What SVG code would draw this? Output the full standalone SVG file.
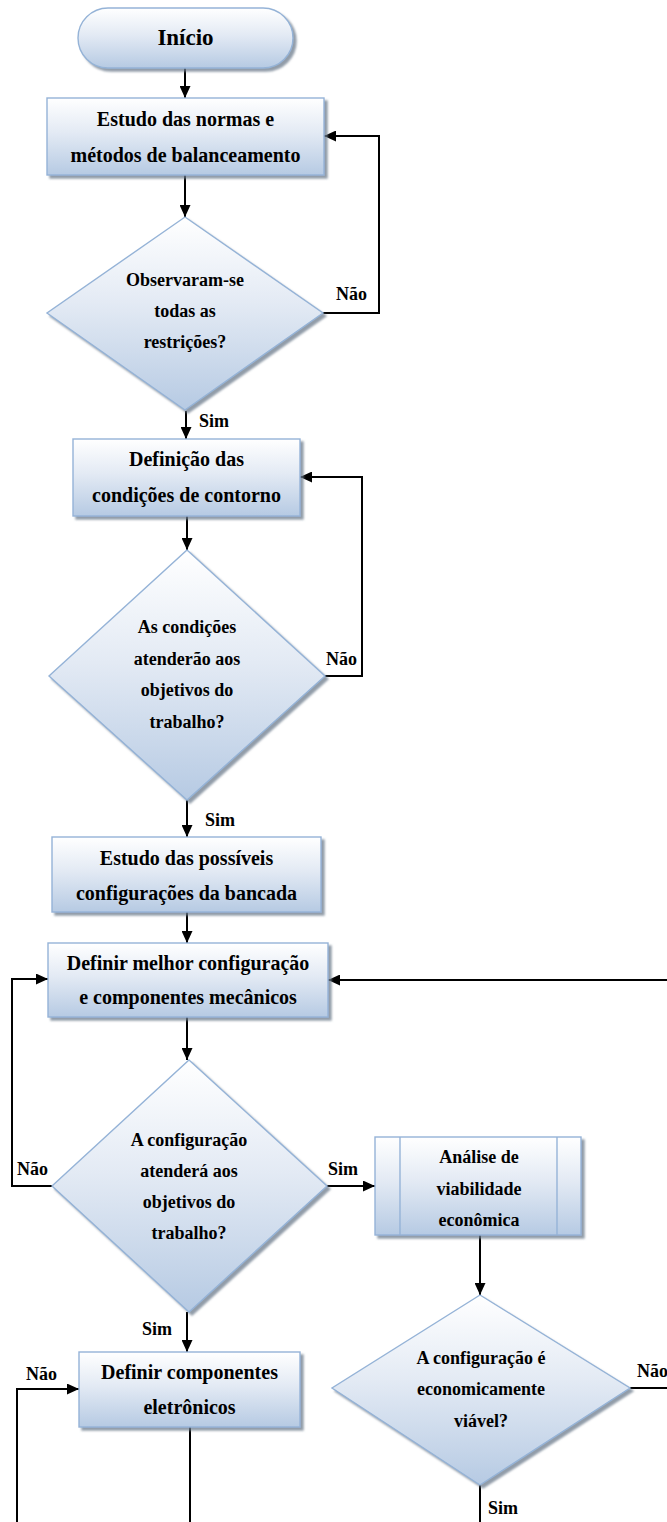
<svg xmlns="http://www.w3.org/2000/svg" width="667" height="1522" viewBox="0 0 667 1522" font-family="Liberation Serif, Times New Roman, Times, serif">
  <style>
    .shape { fill: url(#blueFill); stroke: #95b3d7; stroke-width: 1.4; filter: url(#softShadow); }
    .inner { fill: none; stroke: #95b3d7; stroke-width: 1.4; }
    text { font-weight: bold; fill: #000; }
    .t { text-anchor: middle; }
    .box { font-size: 20px; }
    .dec { font-size: 18px; }
    .lbl { font-size: 18px; }
    .wire { fill: none; stroke: #000; stroke-width: 2; }
    .arrow { marker-end: url(#head); }
  </style>
  <defs>
    <linearGradient id="blueFill" x1="0" y1="0" x2="0" y2="1">
      <stop offset="0" stop-color="#ffffff"/>
      <stop offset="0.45" stop-color="#e3eaf4"/>
      <stop offset="1" stop-color="#b6cae3"/>
    </linearGradient>
    <filter id="softShadow" x="-10%" y="-10%" width="125%" height="125%">
      <feDropShadow dx="3" dy="3" stdDeviation="0.8" flood-color="#6d7b8c" flood-opacity="0.75"/>
    </filter>
    <marker id="head" markerUnits="userSpaceOnUse" markerWidth="13" markerHeight="11" refX="12" refY="5.5" orient="auto">
      <path d="M0,0 L12,5.5 L0,11 Z" fill="#000"/>
    </marker>
  </defs>

  <!-- connectors -->
  <g id="connectors">
    <path class="wire arrow" d="M185,68 V98"/>
    <path class="wire arrow" d="M185,175 V217"/>
    <path class="wire arrow" d="M323,313 H379 V136 H324"/>
    <path class="wire arrow" d="M186,411 V439"/>
    <path class="wire arrow" d="M187,516 V550"/>
    <path class="wire arrow" d="M325,676 H362 V477 H300"/>
    <path class="wire arrow" d="M187,800 V837"/>
    <path class="wire arrow" d="M187,912 V943"/>
    <path class="wire arrow" d="M668,980 H328"/>
    <path class="wire arrow" d="M52,1186 H12 V979 H48"/>
    <path class="wire arrow" d="M187,1017 V1060"/>
    <path class="wire arrow" d="M327,1186 H375"/>
    <path class="wire arrow" d="M480,1235 V1295"/>
    <path class="wire arrow" d="M187,1312 V1352"/>
    <path class="wire" d="M630,1388 H668"/>
    <path class="wire" d="M480,1485 V1523"/>
    <path class="wire arrow" d="M17,1523 V1389 H79"/>
    <path class="wire" d="M190,1427 V1523"/>

    <text class="lbl" x="336" y="300">Não</text>
    <text class="lbl" x="199" y="427">Sim</text>
    <text class="lbl" x="326" y="665">Não</text>
    <text class="lbl" x="205" y="826">Sim</text>
    <text class="lbl" x="17" y="1175">Não</text>
    <text class="lbl" x="328" y="1175">Sim</text>
    <text class="lbl" x="142" y="1335">Sim</text>
    <text class="lbl" x="26" y="1380">Não</text>
    <text class="lbl" x="637" y="1377">Não</text>
    <text class="lbl" x="488" y="1514">Sim</text>
  </g>

  <g id="inicio">
    <rect class="shape" x="78" y="8" width="215" height="60" rx="30" ry="30"/>
    <text class="t" x="185.5" y="45" font-size="23">Início</text>
  </g>

  <g id="estudo-normas">
    <rect class="shape" x="47" y="98" width="277" height="77"/>
    <text class="t box" x="185.5" y="126">Estudo das normas e</text>
    <text class="t box" x="185.5" y="162">métodos de balanceamento</text>
  </g>

  <g id="restricoes">
    <polygon class="shape" points="185,217 323,313 185,410 47,313"/>
    <text class="t dec" x="185" y="286">Observaram-se</text>
    <text class="t dec" x="185" y="317">todas as</text>
    <text class="t dec" x="185" y="348">restrições?</text>
  </g>

  <g id="condicoes-contorno">
    <rect class="shape" x="73" y="439" width="227" height="77"/>
    <text class="t box" x="186.5" y="466">Definição das</text>
    <text class="t box" x="186.5" y="502">condições de contorno</text>
  </g>

  <g id="objetivos-condicoes">
    <polygon class="shape" points="187,550 325,676 187,800 49,676"/>
    <text class="t dec" x="187" y="633">As condições</text>
    <text class="t dec" x="187" y="665">atenderão aos</text>
    <text class="t dec" x="187" y="696">objetivos do</text>
    <text class="t dec" x="187" y="728">trabalho?</text>
  </g>

  <g id="configuracoes-bancada">
    <rect class="shape" x="52" y="837" width="269" height="75"/>
    <text class="t box" x="186.5" y="865">Estudo das possíveis</text>
    <text class="t box" x="186.5" y="900">configurações da bancada</text>
  </g>

  <g id="melhor-configuracao">
    <rect class="shape" x="48" y="943" width="280" height="74"/>
    <text class="t box" x="188" y="970">Definir melhor configuração</text>
    <text class="t box" x="188" y="1004">e componentes mecânicos</text>
  </g>

  <g id="objetivos-configuracao">
    <polygon class="shape" points="189,1060 327,1186 189,1312 52,1186"/>
    <text class="t dec" x="189" y="1146">A configuração</text>
    <text class="t dec" x="189" y="1177">atenderá aos</text>
    <text class="t dec" x="189" y="1208">objetivos do</text>
    <text class="t dec" x="189" y="1239">trabalho?</text>
  </g>

  <g id="viabilidade-economica">
    <rect class="shape" x="375" y="1137" width="206" height="98"/>
    <line class="inner" x1="400" y1="1137" x2="400" y2="1235"/>
    <line class="inner" x1="557" y1="1137" x2="557" y2="1235"/>
    <text class="t dec" x="479" y="1163">Análise de</text>
    <text class="t dec" x="479" y="1195">viabilidade</text>
    <text class="t dec" x="479" y="1226">econômica</text>
  </g>

  <g id="economicamente-viavel">
    <polygon class="shape" points="480,1295 630,1388 480,1485 332,1388"/>
    <text class="t dec" x="481" y="1364">A configuração é</text>
    <text class="t dec" x="481" y="1395">economicamente</text>
    <text class="t dec" x="481" y="1427">viável?</text>
  </g>

  <g id="componentes-eletronicos">
    <rect class="shape" x="79" y="1352" width="221" height="75"/>
    <text class="t box" x="189.5" y="1379">Definir componentes</text>
    <text class="t box" x="189.5" y="1414">eletrônicos</text>
  </g>
</svg>
